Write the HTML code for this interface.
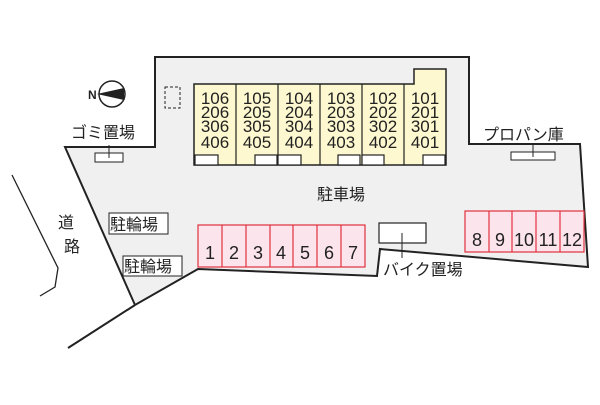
<!DOCTYPE html>
<html><head><meta charset="utf-8"><style>
body{margin:0;background:#fff}
svg text{font-family:"Liberation Sans","Noto Sans CJK JP",sans-serif;fill:#222}
</style></head><body>
<svg width="600" height="400" viewBox="0 0 600 400" xmlns="http://www.w3.org/2000/svg">
<polygon points="155,57 469,57 469,144 580,144 588,267 380,249 377,276 198,269 135,305 65,147 155,147" fill="#f0f0f0" stroke="#222" stroke-width="2"/>
<line x1="135" y1="305" x2="68" y2="348" stroke="#222" stroke-width="2"/>
<polyline points="12,175 58,268 55,287 40,296" fill="none" stroke="#222" stroke-width="1.3"/>
<polygon points="194,84 414,84 414,69 446,69 446,165 194,165" fill="#fdf8cf" stroke="#222" stroke-width="1.5"/>
<g stroke="#222" stroke-width="1.2">
<line x1="236" y1="84" x2="236" y2="165"/><line x1="278" y1="84" x2="278" y2="165"/>
<line x1="320" y1="84" x2="320" y2="165"/><line x1="362" y1="84" x2="362" y2="165"/>
<line x1="404" y1="84" x2="404" y2="165"/>
</g>
<g fill="#fff" stroke="#222" stroke-width="1.2">
<rect x="195" y="155" width="23" height="10"/><rect x="255" y="155" width="22" height="10"/>
<rect x="278" y="155" width="23" height="10"/><rect x="338" y="155" width="22" height="10"/>
<rect x="362" y="155" width="22" height="10"/><rect x="423" y="155" width="22" height="10"/>
</g>
<g font-size="17" text-anchor="middle">
<text x="215" y="104">106</text><text x="215" y="118">206</text><text x="215" y="132">306</text><text x="215" y="148">406</text>
<text x="257" y="104">105</text><text x="257" y="118">205</text><text x="257" y="132">305</text><text x="257" y="148">405</text>
<text x="299" y="104">104</text><text x="299" y="118">204</text><text x="299" y="132">304</text><text x="299" y="148">404</text>
<text x="341" y="104">103</text><text x="341" y="118">203</text><text x="341" y="132">303</text><text x="341" y="148">403</text>
<text x="383" y="104">102</text><text x="383" y="118">202</text><text x="383" y="132">302</text><text x="383" y="148">402</text>
<text x="425" y="104">101</text><text x="425" y="118">201</text><text x="425" y="132">301</text><text x="425" y="148">401</text>
</g>
<rect x="165" y="87" width="15" height="21" fill="none" stroke="#222" stroke-dasharray="3,2"/>
<circle cx="112" cy="94" r="13" fill="#fff" stroke="#222" stroke-width="1.5"/>
<polygon points="97,94 124,88 124,100" fill="#222"/>
<text x="88" y="99" font-size="12" font-weight="bold">N</text>
<text x="71" y="138" font-size="16">ゴミ置場</text>
<rect x="95" y="153" width="28" height="9" fill="#fff" stroke="#222"/>
<line x1="109" y1="145" x2="109" y2="158" stroke="#222"/>
<text x="483" y="140" font-size="16">プロパン庫</text>
<rect x="511" y="152" width="44" height="8" fill="#fff" stroke="#222"/>
<line x1="533" y1="143" x2="533" y2="157" stroke="#222"/>
<text x="341" y="200" font-size="16" text-anchor="middle">駐車場</text>
<rect x="198" y="225" width="167" height="42" fill="#fce4ec" stroke="#e0303e" stroke-width="1.2"/>
<g stroke="#e0303e" stroke-width="1.2">
<line x1="222" y1="225" x2="222" y2="267"/><line x1="246" y1="225" x2="246" y2="267"/>
<line x1="270" y1="225" x2="270" y2="267"/><line x1="293" y1="225" x2="293" y2="267"/>
<line x1="317" y1="225" x2="317" y2="267"/><line x1="341" y1="225" x2="341" y2="267"/>
</g>
<g font-size="18" text-anchor="middle">
<text x="210" y="259">1</text><text x="234" y="259">2</text><text x="258" y="259">3</text><text x="281" y="259">4</text><text x="305" y="259">5</text><text x="329" y="259">6</text><text x="353" y="259">7</text>
</g>
<rect x="465" y="211" width="119" height="41" fill="#fce4ec" stroke="#e0303e" stroke-width="1.2"/>
<g stroke="#e0303e" stroke-width="1.2">
<line x1="489" y1="211" x2="489" y2="252"/><line x1="512" y1="211" x2="512" y2="252"/>
<line x1="536" y1="211" x2="536" y2="252"/><line x1="560" y1="211" x2="560" y2="252"/>
</g>
<g font-size="18" text-anchor="middle">
<text x="477" y="246">8</text><text x="500" y="246">9</text><text x="524" y="246">10</text><text x="548" y="246">11</text><text x="572" y="246">12</text>
</g>
<rect x="379" y="223" width="47" height="20" fill="#fff" stroke="#222" stroke-width="1.2"/>
<line x1="402" y1="233" x2="402" y2="258" stroke="#222"/>
<text x="383" y="275" font-size="16">バイク置場</text>
<rect x="109" y="213" width="59" height="21" fill="#fff" stroke="#222"/>
<text x="110" y="230" font-size="16">駐輪場</text>
<rect x="123" y="256" width="59" height="20" fill="#fff" stroke="#222"/>
<text x="124" y="272" font-size="16">駐輪場</text>
<text x="58" y="228" font-size="16">道</text>
<text x="64" y="252" font-size="16">路</text>
</svg>
</body></html>
